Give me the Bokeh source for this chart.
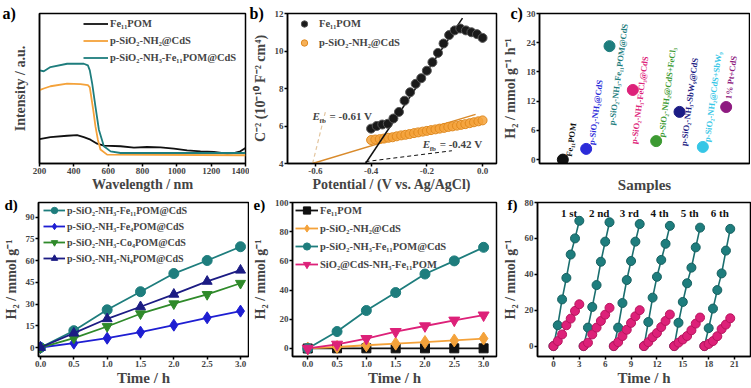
from bokeh.plotting import figure
from bokeh.layouts import row, column
from bokeh.models import (ColumnDataSource, Legend, LegendItem, Label, FixedTicker,
                          NumeralTickFormatter, Range1d)
from bokeh.core.properties import value
from bokeh.embed import file_html
from bokeh.resources import INLINE

FONT = "Liberation Serif"

# ---------------- data ----------------
# a) UV-vis spectra (intensity, a.u.)
a_wl_fe = [200, 264, 361, 419, 458, 497, 536, 575, 672, 750, 827, 905, 983, 1060, 1138, 1216, 1293, 1332, 1370, 1400]
a_int_fe = [0.163, 0.176, 0.185, 0.189, 0.176, 0.159, 0.132, 0.119, 0.115, 0.106, 0.110, 0.108, 0.099, 0.088, 0.081, 0.077, 0.066, 0.070, 0.081, 0.104]
a_wl_cds = [200, 225, 264, 361, 439, 482, 493, 513, 526, 540, 555, 594, 1400]
a_int_cds = [0.489, 0.500, 0.515, 0.533, 0.529, 0.522, 0.507, 0.357, 0.247, 0.159, 0.093, 0.059, 0.055]
a_wl_comp = [200, 225, 264, 361, 458, 482, 493, 507, 526, 546, 575, 614, 672, 1400]
a_int_comp = [0.621, 0.615, 0.643, 0.665, 0.665, 0.654, 0.621, 0.533, 0.379, 0.225, 0.115, 0.081, 0.070, 0.070]
a_names = ["Fe\u2081\u2081POM", "p-SiO\u2082-NH\u2082@CdS", "p-SiO\u2082-NH\u2083-Fe\u2081\u2081POM@CdS"]
a_ticks = [200, 400, 600, 800, 1000, 1200, 1400]

# b) Mott-Schottky
b_pot_fe = [-0.40, -0.38, -0.36, -0.34, -0.32, -0.30, -0.28, -0.26, -0.24, -0.22, -0.20,
            -0.18, -0.16, -0.14, -0.12, -0.10, -0.08, -0.06, -0.04, -0.02, 0.00]
b_c_fe = [5.86, 6.00, 6.08, 6.12, 6.40, 6.75, 7.35, 7.80, 8.25, 8.55, 8.95,
          9.40, 9.90, 10.40, 10.85, 11.10, 11.20, 11.10, 11.00, 10.90, 10.70]
b_pot_cds = [-0.400, -0.385, -0.369, -0.354, -0.338, -0.323, -0.308, -0.292, -0.277, -0.262,
             -0.246, -0.231, -0.215, -0.200, -0.185, -0.169, -0.154, -0.138, -0.123, -0.108,
             -0.092, -0.077, -0.062, -0.046, -0.031, -0.015, 0.000]
b_c_cds = [5.25, 5.28, 5.30, 5.33, 5.37, 5.40, 5.45, 5.50, 5.53, 5.57,
           5.62, 5.66, 5.70, 5.74, 5.78, 5.82, 5.86, 5.90, 5.95, 5.98,
           6.02, 6.06, 6.10, 6.15, 6.20, 6.25, 6.30]
b_fit_fe_x = [-0.42, -0.072]
b_fit_fe_y = [4.0, 11.75]
b_fit_cds_x = [-0.61, -0.025]
b_fit_cds_y = [4.0, 6.62]
b_efb = [-0.61, -0.42]
b_names = ["Fe\u2081\u2081POM", "p-SiO\u2082-NH\u2082@CdS"]
b_xticks = [-0.6, -0.4, -0.2, 0.0]
b_yticks = [4, 6, 8, 10, 12]

# c) H2 evolution rates
c_samples = ["Fe\u2081\u2081POM", "p-SiO\u2082-NH\u2082@CdS", "p-SiO\u2082-NH\u2083-Fe\u2081\u2081POM@CdS",
             "p-SiO\u2082-NH\u2083-FeCl\u2083@CdS", "p-SiO\u2082-NH\u2082@CdS+FeCl\u2083",
             "p-SiO\u2082-NH\u2083-SbW\u2089@CdS", "p-SiO\u2082-NH\u2082@CdS+SbW\u2089", "1% Pt+CdS"]
c_rates = [0.0, 2.2, 23.3, 14.3, 3.8, 9.8, 2.6, 10.8]
c_yticks = [0, 6, 12, 18, 24, 30]

# d) POM variants
d_time = [0, 0.5, 1.0, 1.5, 2.0, 2.5, 3.0]
d_fe11 = [0, 11.6, 26.0, 38.5, 51.0, 60.0, 69.5]
d_fe4 = [0, 3.0, 6.4, 10.6, 15.4, 20.5, 25.1]
d_co4 = [0, 6.5, 14.5, 23.3, 30.2, 36.6, 44.3]
d_ni4 = [0, 9.9, 19.8, 28.1, 36.7, 45.6, 53.3]
d_names = ["p-SiO\u2082-NH\u2083-Fe\u2081\u2081POM@CdS", "p-SiO\u2082-NH\u2083-Fe\u2084POM@CdS",
           "p-SiO\u2082-NH\u2083-Co\u2084POM@CdS", "p-SiO\u2082-NH\u2083-Ni\u2084POM@CdS"]
d_yticks = [0, 15, 30, 45, 60, 75, 90]

# e) controls
e_time = [0, 0.5, 1.0, 1.5, 2.0, 2.5, 3.0]
e_fe11pom = [0, 0.1, 0.1, 0.1, 0.1, 0.1, 0.1]
e_cds = [0, 1.0, 2.2, 3.3, 4.4, 5.5, 6.8]
e_comp = [0, 11.6, 26.0, 38.3, 51.0, 60.0, 69.3]
e_sio2 = [0, 2.8, 6.7, 11.5, 15.4, 19.3, 22.8]
e_names = ["Fe\u2081\u2081POM", "p-SiO\u2082-NH\u2082@CdS", "p-SiO\u2082-NH\u2083-Fe\u2081\u2081POM@CdS",
           "SiO\u2082@CdS-NH\u2083-Fe\u2081\u2081POM"]
e_yticks = [0, 20, 40, 60, 80, 100]

# f) cycling
f_cycle_start = [0, 3.5, 7, 10.5, 14, 17.5]
f_step = [0, 0.5, 1.0, 1.5, 2.0, 2.5, 3.0]
f_comp = [[0, 11.6, 26.0, 38.0, 51.0, 60.0, 69.8],
          [0, 10.3, 21.8, 34.0, 47.0, 58.2, 69.0],
          [0, 10.3, 24.0, 36.8, 47.4, 58.2, 68.0],
          [0, 13.4, 27.0, 38.6, 48.0, 57.0, 67.0],
          [0, 13.0, 24.6, 35.0, 43.7, 55.0, 66.0],
          [0, 10.0, 20.9, 31.2, 40.5, 53.2, 65.3]]
f_sio2 = [[0, 2.8, 6.5, 11.6, 15.3, 19.6, 23.3],
          [0, 1.9, 6.5, 10.3, 14.0, 17.5, 21.3],
          [0, 2.2, 5.6, 9.1, 12.9, 16.6, 20.0],
          [0, 2.2, 5.0, 7.3, 10.6, 14.0, 17.6],
          [0, 1.9, 3.7, 5.6, 8.8, 12.5, 15.9],
          [0, 1.2, 2.8, 5.5, 9.5, 12.0, 15.5]]
f_labels = ["1 st", "2 nd", "3 rd", "4 th", "5 th", "6 th"]
f_xticks = [0, 3, 6, 9, 12, 15, 18, 21]
f_yticks = [0, 20, 40, 60, 80]

# ---------------- colours ----------------
BLACK = "#111111"
ORANGE = "#F4A23A"
TEAL = "#1E7D7D"
BLUE = "#1E1ED2"
GREEN = "#2F8A2A"
NAVY = "#1C1C84"
PINK = "#DD2179"
c_colors = [BLACK, "#2B2BD9", TEAL, PINK, "#3C9A32", NAVY, "#35C6E6", "#8E1A80"]


def make_fig(x_range, y_range, width, height, bl, br, bt, bb):
    p = figure(width=width, height=height, x_range=x_range, y_range=y_range,
               output_backend="svg", toolbar_location=None,
               min_border_left=bl, min_border_right=br, min_border_top=bt, min_border_bottom=bb)
    p.grid.visible = False
    p.outline_line_color = "black"
    p.outline_line_width = 1.5
    p.outline_line_alpha = 1
    p.background_fill_color = "white"
    p.border_fill_color = "white"
    for ax in p.axis:
        ax.axis_line_width = 1.5
        ax.major_tick_line_width = 1.5
        ax.major_tick_out = 3
        ax.major_tick_in = 0
        ax.minor_tick_line_color = None
        ax.major_label_text_font = FONT
        ax.major_label_text_font_style = "bold"
        ax.major_label_text_font_size = "9px"
        ax.major_label_standoff = 1
        ax.axis_label_text_font = FONT
        ax.axis_label_text_font_style = "bold"
        ax.axis_label_text_font_size = "14px"
        ax.axis_label_standoff = 0
    return p


def panel_label(p, txt, dx, standoff, size="16px"):
    p.title.text = txt
    p.title.align = "left"
    p.title.offset = dx
    p.title.standoff = standoff
    p.title.text_font = FONT
    p.title.text_font_style = "bold"
    p.title.text_font_size = size
    p.title.text_color = "black"


def legend(p, items, x, y, lh, gw, standoff, size="10.5px"):
    lg = Legend(items=items, location=(x, y), padding=0, margin=0, spacing=0,
                label_height=lh, glyph_height=lh, glyph_width=gw, label_standoff=standoff,
                border_line_color=None, background_fill_alpha=0,
                label_text_font=FONT, label_text_font_style="bold", label_text_font_size=size)
    p.add_layout(lg)


T1, FH1, B1 = 13, 152, 30
T2, FH2, B2 = 7, 154, 32
ROW1_H = T1 + FH1 + B1
ROW2_H = T2 + FH2 + B2

# ---------------- a ----------------
pa = make_fig(Range1d(200, 1400), Range1d(0, 1), 39 + 206 + 4, ROW1_H, 39, 4, T1, B1)
pa.xaxis.ticker = FixedTicker(ticks=a_ticks)
pa.yaxis.ticker = FixedTicker(ticks=[])
pa.xaxis.axis_label = "Wavelength / nm"
pa.yaxis.axis_label = "Intensity / a.u."
pa.yaxis.axis_label_standoff = 12
ra1 = pa.line(a_wl_fe, a_int_fe, line_color=BLACK, line_width=1.8)
ra2 = pa.line(a_wl_cds, a_int_cds, line_color=ORANGE, line_width=1.8)
ra3 = pa.line(a_wl_comp, a_int_comp, line_color=TEAL, line_width=1.8)
legend(pa, [LegendItem(label=a_names[0], renderers=[ra1]),
            LegendItem(label=a_names[1], renderers=[ra2]),
            LegendItem(label=a_names[2], renderers=[ra3])], 44, 97, 17, 25, 2)
panel_label(pa, "a)", -37, -16)

# ---------------- b ----------------
pb = make_fig(Range1d(-0.7, 0.05), Range1d(4, 12), 36 + 211 + 3, ROW1_H, 36, 3, T1, B1)
pb.xaxis.ticker = FixedTicker(ticks=b_xticks)
pb.xaxis.formatter = NumeralTickFormatter(format="0.0")
pb.yaxis.ticker = FixedTicker(ticks=b_yticks)
pb.xaxis.axis_label = "Potential / (V vs. Ag/AgCl)"
pb.yaxis.axis_label = "C\u207b\u00b2 (10\u207b\u00b9\u2070 F\u207b\u00b2 cm\u2074)"
pb.yaxis.axis_label_standoff = 4
pb.line([b_efb[0], b_efb[0] + 0.047], [4.0, 6.82], line_color="#E3C59E", line_width=1.2, line_dash="4 3")
pb.line([b_efb[1], b_efb[1] + 0.31], [4.1, 4.68], line_color=BLACK, line_width=1.0, line_dash="4 3")
pb.line(b_fit_cds_x, b_fit_cds_y, line_color="#D98A2B", line_width=1.5)
rb2 = pb.scatter(b_pot_cds, b_c_cds, size=9, fill_color=ORANGE, line_color="#E08A20", fill_alpha=0.85)
pb.line(b_fit_fe_x, b_fit_fe_y, line_color=BLACK, line_width=1.5)
rb1 = pb.scatter(b_pot_fe, b_c_fe, size=9, fill_color="#1a1a1a", line_color="#555555")
legend(pb, [LegendItem(label=b_names[0], renderers=[rb1]),
            LegendItem(label=b_names[1], renderers=[rb2])], 9, 111, 19, 16, 7, "10.5px")
for xv, yv, txt in [(b_efb[0], 6.19, "= -0.61 V"), (b_efb[1] + 0.205, 4.72, "= -0.42 V")]:
    pb.add_layout(Label(x=xv, y=yv, text="E", text_font=FONT, text_font_style="bold italic",
                        text_font_size="11px", text_baseline="bottom"))
    pb.add_layout(Label(x=xv, y=yv, x_offset=7, y_offset=-3, text="fb", text_font=FONT,
                        text_font_style="bold", text_font_size="7px", text_baseline="bottom"))
    pb.add_layout(Label(x=xv, y=yv, x_offset=17, text=txt, text_font=FONT, text_font_style="bold",
                        text_font_size="11px", text_baseline="bottom"))
panel_label(pb, "b)", -38, -16)

# ---------------- c ----------------
pc = make_fig(Range1d(0, 9), Range1d(-0.8, 30), 39 + 211 + 1, ROW1_H, 39, 1, T1, B1)
pc.xaxis.ticker = FixedTicker(ticks=[])
pc.xaxis.major_tick_out = 0
pc.yaxis.ticker = FixedTicker(ticks=c_yticks)
pc.xaxis.axis_label = "Samples"
pc.xaxis.axis_label_text_font_size = "15px"
pc.xaxis.axis_label_standoff = 13
pc.yaxis.axis_label = "H\u2082 / mmol g\u207b\u00b9 h\u207b\u00b9"
pc.yaxis.axis_label_standoff = 6
c_x = list(range(1, len(c_samples) + 1))
c_dx = [6, 5, 2, 1, 5, 4, 4, 2]
c_dy = [-3, -4, 79, 54, -4, 34, -5, -8]
src_c = ColumnDataSource(dict(x=c_x, y=c_rates, name=c_samples, color=c_colors, dx=c_dx, dy=c_dy))
pc.scatter("x", "y", source=src_c, size=11, fill_color="color", line_color="color")
pc.text("x", "y", text="name", source=src_c, angle=1.44, text_color="color",
        x_offset="dx", y_offset="dy", text_font=value(FONT), text_font_style="bold",
        text_font_size="8.5px", text_baseline="middle", text_align="left")
panel_label(pc, "c)", -29, -16)

# ---------------- d ----------------
pd_ = make_fig(Range1d(-0.03, 3.12), Range1d(-6.2, 100), 38 + 210 + 1, ROW2_H, 38, 1, T2, B2)
pd_.xaxis.ticker = FixedTicker(ticks=d_time)
pd_.xaxis.formatter = NumeralTickFormatter(format="0.0")
pd_.yaxis.ticker = FixedTicker(ticks=d_yticks)
pd_.xaxis.axis_label = "Time / h"
pd_.xaxis.axis_label_text_font_size = "15px"
pd_.yaxis.axis_label = "H\u2082 / mmol g\u207b\u00b9"
pd_.yaxis.axis_label_standoff = 4
items = []
for ys, col, mk, nm in [(d_fe11, TEAL, "circle", d_names[0]), (d_fe4, BLUE, "diamond", d_names[1]),
                        (d_co4, GREEN, "inverted_triangle", d_names[2]), (d_ni4, NAVY, "triangle", d_names[3])]:
    l = pd_.line(d_time, ys, line_color=col, line_width=1.8)
    s = pd_.scatter(d_time, ys, marker=mk, size=10 if mk != "diamond" else 12, fill_color=col, line_color=col)
    items.append(LegendItem(label=nm, renderers=[l, s]))
legend(pd_, items, 5, 90, 16, 22, 2, "10px")
panel_label(pd_, "d)", -34, -21, "15px")

# ---------------- e ----------------
pe = make_fig(Range1d(-0.26, 3.22), Range1d(-5.5, 100), 38 + 209 + 3, ROW2_H, 38, 3, T2, B2)
pe.xaxis.ticker = FixedTicker(ticks=e_time)
pe.xaxis.formatter = NumeralTickFormatter(format="0.0")
pe.yaxis.ticker = FixedTicker(ticks=e_yticks)
pe.xaxis.axis_label = "Time / h"
pe.xaxis.axis_label_text_font_size = "15px"
pe.yaxis.axis_label = "H\u2082 / mmol g\u207b\u00b9"
pe.yaxis.axis_label_standoff = 4
items = []
for ys, col, mk, sz, nm in [(e_fe11pom, BLACK, "square", 9, e_names[0]), (e_cds, ORANGE, "diamond", 13, e_names[1]),
                            (e_comp, TEAL, "circle", 10, e_names[2]), (e_sio2, PINK, "inverted_triangle", 11, e_names[3])]:
    l = pe.line(e_time, ys, line_color=col, line_width=1.8)
    s = pe.scatter(e_time, ys, marker=mk, size=sz, fill_color=col, line_color=col)
    items.append(LegendItem(label=nm, renderers=[l, s]))
legend(pe, items, 3, 83, 18, 23, 2)
panel_label(pe, "e)", -39, -21, "15px")

# ---------------- f ----------------
pf = make_fig(Range1d(-1.85, 22.85), Range1d(-5.8, 80), 38 + 213 + 1, ROW2_H, 38, 1, T2, B2)
pf.xaxis.ticker = FixedTicker(ticks=f_xticks)
pf.yaxis.ticker = FixedTicker(ticks=f_yticks)
pf.xaxis.axis_label = "Time / h"
pf.xaxis.axis_label_text_font_size = "15px"
pf.yaxis.axis_label = "H\u2082 / mmol g\u207b\u00b9"
pf.yaxis.axis_label_standoff = 4
for start, ys in zip(f_cycle_start, f_comp):
    xs = [start + t for t in f_step]
    pf.line(xs, ys, line_color="#1B6F6F", line_width=1.6)
    pf.scatter(xs, ys, size=9, fill_color=TEAL, line_color="#166060")
for start, ys in zip(f_cycle_start, f_sio2):
    xs = [start + t for t in f_step]
    pf.line(xs, ys, line_color=PINK, line_width=1.6)
    pf.scatter(xs, ys, size=9, fill_color=PINK, line_color="#B8145E")
src_f = ColumnDataSource(dict(x=[s + 1.8 for s in f_cycle_start], y=[74] * len(f_labels), t=f_labels))
pf.text("x", "y", text="t", source=src_f, text_font=value(FONT), text_font_style="bold",
        text_font_size="11px", text_align="center", text_baseline="middle", text_color=BLACK)
panel_label(pf, "f)", -30, -21, "15px")

layout = column(row(pa, pb, pc), row(pd_, pe, pf))
open("out.html", "w").write(file_html(layout, INLINE))
